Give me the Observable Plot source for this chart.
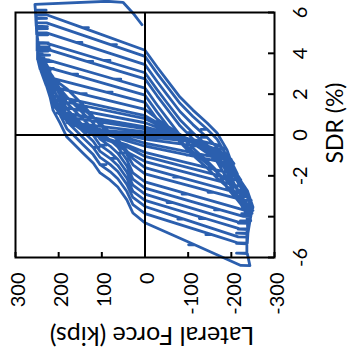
<!DOCTYPE html>
<html><head><meta charset="utf-8">
<script src="https://cdn.jsdelivr.net/npm/d3@7"></script>
<script src="https://cdn.jsdelivr.net/npm/@observablehq/plot@0.6"></script>
<style>
body{margin:0;background:#fff;}
#chart{width:349px;height:356px;}
</style></head><body><div id="chart"></div>
<script>
// Tick values / labels
const forceTicks = [300, 200, 100, 0, -100, -200, -300];
const forceTickLabels = ["300", "200", "100", "0", "-100", "-200", "-300"];
const sdrTicks = [-6, -4, -2, 0, 2, 4, 6];
const sdrTickLabels = ["-6", "", "-2", "0", "2", "4", "6"];

// Hysteresis loops, [SDR (%), Lateral force (kips)]
const cycle01 = [[0,0],[0.15,80],[0.3,140],[0.29,128],[0.05,0],[-0.1,-60],[-0.25,-115],[-0.4,-150],[-0.39,-138],[-0.08,0]];
const cycle02 = [[0.1,55],[0.3,120],[0.45,160],[0.6,180],[0.59,168],[0.15,0],[-0.05,-60],[-0.3,-130],[-0.5,-170],[-0.7,-185],[-0.69,-173],[-0.2,0]];
const cycle03 = [[0.0,45],[0.3,110],[0.6,165],[0.9,195],[0.89,182],[0.3,0],[0.05,-50],[-0.3,-110],[-0.7,-160],[-1.0,-190],[-1.2,-200],[-1.19,-187],[-0.4,0]];
const cycle04 = [[-0.15,40],[0.2,100],[0.6,160],[0.9,190],[1.1,203],[1.09,190],[0.4,0],[0.1,-50],[-0.3,-115],[-0.7,-165],[-1.1,-195],[-1.4,-206],[-1.39,-193],[-0.55,0]];
const cycle05 = [[-0.3,40],[0.1,100],[0.5,155],[1.0,195],[1.4,210],[1.39,196],[0.6,0],[0.2,-50],[-0.3,-115],[-0.8,-165],[-1.3,-200],[-1.9,-214],[-1.89,-200],[-0.85,0]];
const cycle06 = [[-0.5,40],[-0.1,100],[0.4,155],[1.0,195],[1.7,215],[1.69,200],[0.8,0],[0.3,-50],[-0.3,-110],[-0.9,-165],[-1.5,-200],[-2.2,-222],[-2.19,-207],[-1.05,0]];
const cycle07 = [[-0.6,40],[-0.2,95],[0.3,150],[1.0,195],[1.9,218],[1.89,203],[0.95,0],[0.4,-45],[-0.3,-105],[-1.0,-160],[-1.7,-200],[-2.5,-230],[-2.49,-214],[-1.3,0]];
const cycle08 = [[-0.9,35],[-0.3,80],[0.3,130],[1.0,180],[1.7,210],[2.35,226],[2.34,210],[2.03,150],[2.03,136],[2.03,150],[1.25,0],[0.6,-40],[-0.1,-90],[-0.9,-145],[-1.7,-190],[-2.3,-220],[-2.9,-240],[-2.89,-224],[-2.06,-80],[-2.06,-66],[-2.06,-80],[-1.6,0]];
const cycle09 = [[-1.16,28],[-0.3,60],[0.5,100],[1.3,145],[1.9,185],[2.4,215],[2.8,234],[2.79,216],[2.1,90],[2.1,76],[2.1,90],[1.6,0],[0.77,-28],[-0.1,-70],[-0.9,-115],[-1.7,-160],[-2.5,-205],[-3.2,-246],[-3.19,-228],[-2.81,-160],[-2.81,-146],[-2.81,-160],[-1.9,0]];
const cycle10 = [[-1.46,28],[-0.19,63],[0.5,104],[1.48,144],[2.26,181],[2.8,215],[3.3,240],[3.29,222],[2.98,170],[2.98,156],[2.98,170],[1.95,0],[1.12,-28],[-0.35,-81],[-0.99,-111],[-0.99,-97],[-0.99,-111],[-1.62,-144],[-2.11,-167],[-2.8,-205],[-3.7,-250],[-3.69,-232],[-2.9,-100],[-2.9,-86],[-2.9,-100],[-2.3,0]];
const cycle11 = [[-1.86,28],[-1.22,42],[-0.59,63],[-0.24,81],[0.1,104],[0.1,90],[0.1,104],[0.59,120],[1.08,144],[1.86,181],[2.7,215],[3.2,235],[3.7,246],[3.69,228],[2.73,70],[2.73,56],[2.73,70],[2.3,0],[1.47,-28],[0.83,-51],[0.0,-81],[-0.64,-111],[-0.64,-97],[-0.64,-111],[-1.27,-144],[-1.76,-167],[-2.59,-190],[-3.2,-215],[-4.0,-245],[-3.99,-228],[-3.67,-175],[-3.67,-161],[-3.67,-175],[-2.6,0]];
const cycle12 = [[-2.16,28],[-1.52,42],[-0.89,63],[-0.89,49],[-0.89,63],[-0.54,81],[-0.2,104],[0.29,120],[0.78,144],[1.27,167],[1.56,181],[2.25,197],[2.9,215],[3.5,235],[3.9,244],[4.2,249],[4.19,226],[3.61,135],[3.61,121],[3.61,135],[2.75,0],[1.92,-28],[1.28,-51],[0.45,-81],[-0.19,-111],[-0.19,-97],[-0.19,-111],[-0.82,-144],[-1.31,-167],[-2.14,-190],[-2.98,-210],[-3.5,-232],[-4.3,-240],[-4.29,-220],[-3.31,-65],[-3.31,-51],[-3.31,-65],[-2.9,0]];
const cycle13 = [[-2.46,28],[-1.82,42],[-1.19,63],[-0.84,81],[-0.5,104],[-0.5,90],[-0.5,104],[-0.01,120],[0.48,144],[0.97,167],[1.26,181],[1.95,197],[2.58,213],[3.22,222],[3.9,240],[4.5,250],[4.49,227],[3.65,95],[3.65,81],[3.65,95],[3.05,0],[2.22,-28],[1.58,-51],[0.75,-81],[0.11,-111],[0.11,-97],[0.11,-111],[-0.52,-144],[-1.01,-167],[-1.84,-190],[-2.68,-204],[-3.31,-220],[-3.9,-236],[-4.6,-238],[-4.59,-218],[-4.09,-140],[-4.09,-126],[-4.09,-140],[-3.2,0]];
const cycle14 = [[-2.76,28],[-2.12,42],[-1.49,63],[-1.14,81],[-1.14,67],[-1.14,81],[-0.8,104],[-0.31,120],[0.18,144],[0.67,167],[0.96,181],[1.65,197],[2.28,213],[2.92,220],[3.9,236],[4.2,244],[4.21,220],[4.22,244],[4.6,248],[5.0,251],[5.0,228],[4.54,160],[4.54,146],[4.54,160],[3.45,0],[2.62,-28],[1.98,-51],[1.15,-81],[0.51,-111],[-0.12,-144],[-0.12,-130],[-0.12,-144],[-0.61,-167],[-1.44,-190],[-2.28,-204],[-2.91,-220],[-3.4,-236],[-4.2,-245],[-4.21,-221],[-4.22,-243],[-5.0,-237],[-4.99,-216],[-4.12,-90],[-4.12,-76],[-4.12,-90],[-3.5,0]];
const cycle15 = [[-3.06,28],[-2.42,42],[-1.79,63],[-1.44,81],[-1.1,104],[-0.61,120],[-0.61,106],[-0.61,120],[-0.12,144],[0.37,167],[0.66,181],[1.35,197],[1.98,213],[2.62,220],[3.6,236],[3.61,213],[3.63,237],[4.3,246],[4.31,222],[4.33,247],[4.9,250],[4.91,226],[4.93,251],[5.5,252],[5.49,228],[4.43,80],[4.43,66],[4.43,80],[3.85,0],[3.02,-28],[2.38,-51],[1.55,-81],[0.91,-111],[0.28,-144],[0.28,-130],[0.28,-144],[-0.21,-167],[-1.04,-190],[-1.88,-204],[-2.51,-220],[-3.0,-236],[-3.01,-212],[-3.03,-237],[-3.84,-248],[-3.85,-224],[-3.87,-246],[-4.6,-240],[-4.61,-216],[-4.63,-239],[-5.3,-237],[-5.29,-216],[-4.88,-155],[-4.88,-141],[-4.88,-155],[-3.85,0]];
const cycle16 = [[-3.41,28],[-2.77,42],[-2.14,63],[-1.79,81],[-1.45,104],[-1.45,90],[-1.45,104],[-0.96,120],[-0.47,144],[0.02,167],[0.31,181],[1.0,197],[1.63,213],[2.27,220],[3.25,236],[3.26,212],[3.28,237],[3.9,245],[3.91,221],[3.93,246],[4.5,249],[4.51,224],[4.53,249],[5.2,251],[5.21,226],[5.23,251],[5.9,252],[5.89,228],[5.26,145],[5.26,131],[5.26,145],[4.15,0],[3.33,-28],[2.69,-51],[1.86,-81],[1.22,-111],[0.59,-144],[0.1,-167],[-0.73,-190],[-1.57,-204],[-2.2,-220],[-2.69,-236],[-2.7,-212],[-2.72,-237],[-3.53,-250],[-3.54,-226],[-3.56,-250],[-3.82,-243],[-4.3,-240],[-4.31,-216],[-4.33,-239],[-4.8,-236],[-4.81,-212],[-4.83,-236],[-5.3,-236],[-5.31,-212],[-5.33,-236],[-5.78,-236],[-5.79,-212],[-5.81,-237],[-6.4,-243],[-6.39,-222],[-5.38,-115],[-5.38,-101],[-5.38,-115],[-4.3,0]];
const cycle17 = [[-3.82,28],[-3.18,42],[-2.55,63],[-2.2,81],[-1.86,104],[-1.37,120],[-0.88,144],[-0.39,167],[-0.1,181],[0.59,197],[1.22,213],[1.86,220],[2.4,228],[2.41,205],[2.43,229],[2.84,236],[3.2,242],[3.21,218],[3.23,243],[3.67,248],[3.68,223],[3.7,249],[4.1,249],[4.11,224],[4.13,250],[4.5,250],[4.51,225],[4.53,250],[4.9,250],[4.91,225],[4.93,251],[5.3,251],[5.31,226],[5.33,252],[5.7,253],[5.71,228],[5.73,253],[6.1,254],[6.11,229],[6.13,254],[6.4,255],[6.55,88],[6.5,51],[5.9,25],[5.4,7]];

const cycles = [cycle01, cycle02, cycle03, cycle04, cycle05, cycle06, cycle07, cycle08, cycle09,
                cycle10, cycle11, cycle12, cycle13, cycle14, cycle15, cycle16, cycle17];
const points = cycles.flat().map(([sdr, force]) => ({sdr, force}));

const plot = Plot.plot({
  width: 349, height: 356,
  marginLeft: 15, marginRight: 75, marginTop: 12, marginBottom: 99,
  style: {fontFamily: "Lato, 'Open Sans', sans-serif", background: "white", overflow: "visible", color: "black"},
  x: {domain: [300, -300], axis: null},
  y: {domain: [-6, 6], axis: null},
  marks: [
    Plot.line(points, {x: "force", y: "sdr", stroke: "#2b5fae", strokeWidth: 2.8, strokeLinejoin: "round", strokeLinecap: "round"}),
    Plot.ruleX([0], {stroke: "black", strokeWidth: 2}),
    Plot.ruleY([0], {stroke: "black", strokeWidth: 2}),
    Plot.frame({stroke: "black", strokeWidth: 2}),
    Plot.tickX(forceTicks, {x: d => d, insetTop: 240, stroke: "black", strokeWidth: 2}),
    Plot.tickY(sdrTicks, {y: d => d, insetLeft: 253, stroke: "black", strokeWidth: 2}),
    Plot.text(forceTicks, {x: d => d, text: (d, i) => forceTickLabels[i], frameAnchor: "bottom", dy: 15, dx: 3, rotate: -90, textAnchor: "end", lineAnchor: "middle", fontSize: 20, fill: "black"}),
    Plot.text(sdrTicks, {y: d => d, text: (d, i) => sdrTickLabels[i], frameAnchor: "right", dx: 26, rotate: -90, textAnchor: "middle", lineAnchor: "middle", fontSize: 20, fill: "black"}),
    Plot.text(["Lateral Force (kips)"], {text: d => d, frameAnchor: "bottom", dx: 7, dy: 77, rotate: 180, textAnchor: "middle", lineAnchor: "middle", fontSize: 25, fill: "black"}),
    Plot.text(["SDR (%)"], {text: d => d, frameAnchor: "right", dx: 61, dy: -12, rotate: -90, textAnchor: "middle", lineAnchor: "middle", fontSize: 23, fill: "black"})
  ]
});
document.getElementById("chart").appendChild(plot);
</script></body></html>
